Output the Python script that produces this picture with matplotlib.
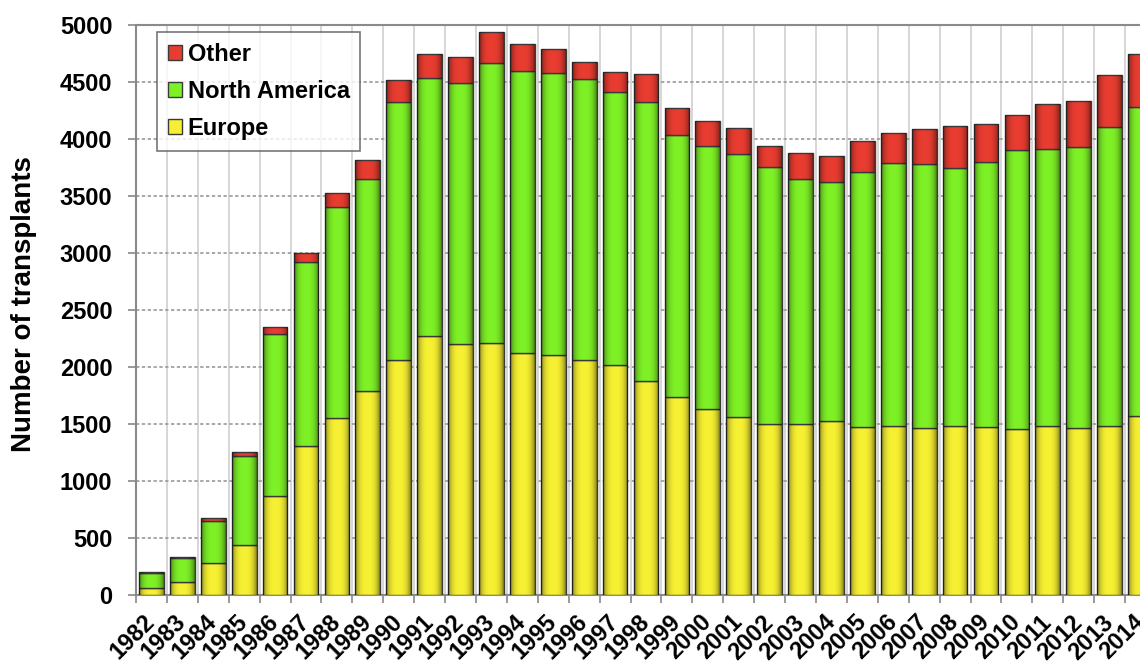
import numpy as np
import matplotlib
matplotlib.use("Agg")
import matplotlib.pyplot as plt
from matplotlib.ticker import FixedLocator

# ── Datos ───────────────────────────────────────────────────────────────────
years = list(range(1982, 2015))

europe = [59, 117, 278, 439, 871, 1307, 1550, 1789, 2064, 2272,
          2202, 2208, 2126, 2105, 2061, 2018, 1877, 1740, 1629, 1559,
          1497, 1497, 1526, 1477, 1485, 1468, 1485, 1477, 1456, 1485,
          1468, 1485, 1570]

# totales acumulados (Europa + Norteamérica)
europe_na = [196, 322, 649, 1219, 2287, 2924, 3406, 3649, 4325, 4532,
             4488, 4669, 4599, 4582, 4524, 4410, 4322, 4035, 3941, 3868,
             3757, 3649, 3626, 3713, 3787, 3781, 3743, 3801, 3904, 3909,
             3927, 4108, 4283]

total = [200, 330, 678, 1252, 2354, 2997, 3524, 3816, 4518, 4746,
         4722, 4936, 4830, 4787, 4673, 4591, 4568, 4275, 4158, 4094,
         3941, 3880, 3854, 3985, 4056, 4085, 4117, 4129, 4211, 4307,
         4336, 4561, 4743]

north_america = [b - a for a, b in zip(europe, europe_na)]
other = [c - b for b, c in zip(europe_na, total)]

C_EUR = "#f6f032"
C_NA = "#7ef026"
C_OTH = "#e83c30"
EDGE = "#3a3a3a"

plt.rcParams["font.family"] = ["Liberation Sans", "DejaVu Sans"]
plt.rcParams["font.weight"] = "bold"

fig = plt.figure(figsize=(11.4, 6.62), dpi=100)
# el eje se extiende más allá del borde derecho (gráfico recortado)
ax = fig.add_axes([136 / 1140, 67 / 662, 1020 / 1140, 570 / 662])

x = np.arange(len(years))
w = 0.8
bars = []
bars += ax.bar(x, europe, w, color=C_EUR, edgecolor=EDGE, linewidth=1.0,
               label="Europe", zorder=3).patches
bars += ax.bar(x, north_america, w, bottom=europe, color=C_NA,
               edgecolor=EDGE, linewidth=1.0, label="North America",
               zorder=3).patches
bars += ax.bar(x, other, w, bottom=europe_na, color=C_OTH, edgecolor=EDGE,
               linewidth=1.0, label="Other", zorder=3).patches

# sombreado tipo cilindro (bordes más oscuros)
t = np.linspace(-1, 1, 60)
shade = np.zeros((1, 60, 4))
shade[0, :, 3] = 0.45 * np.abs(t) ** 3
for p in bars:
    x0, y0 = p.get_x(), p.get_y()
    im = ax.imshow(shade, extent=(x0, x0 + p.get_width(), y0,
                                  y0 + p.get_height()),
                   aspect="auto", zorder=3.5, interpolation="bilinear")
    im.set_clip_path(p)

ax.set_xlim(-0.5, len(years) - 0.5)
ax.set_ylim(0, 5000)
ax.set_yticks(range(0, 5001, 500))
ax.yaxis.grid(True, linestyle=(0, (2, 1.5)), color="#9a9a9a", linewidth=1.2,
              zorder=1)

# líneas verticales entre categorías
ax.set_xticks(x)
ax.set_xticklabels([str(y) for y in years], rotation=45, ha="right",
                   va="center", rotation_mode="anchor", fontsize=17,
                   fontweight="bold")
ax.xaxis.set_minor_locator(FixedLocator(x - 0.5))
ax.tick_params(axis="x", which="major", length=0, pad=17)
ax.tick_params(axis="x", which="minor", length=6, color="#888888", width=1.2)
ax.xaxis.grid(True, which="minor", color="#d0d0d0", linewidth=1.2, zorder=1)
ax.tick_params(axis="y", length=6, color="#888888", width=1.2, pad=11,
               labelsize=17)
for lbl in ax.get_yticklabels():
    lbl.set_fontweight("bold")

for s in ["left", "top", "bottom", "right"]:
    ax.spines[s].set_color("#8a8a8a")
    ax.spines[s].set_linewidth(1.5)

ax.set_ylabel("Number of transplants", fontsize=20, fontweight="bold")
ax.yaxis.set_label_coords(-0.110, 0.51)
ax.yaxis.label.set_va("center")

handles, labels = ax.get_legend_handles_labels()
leg = ax.legend(handles[::-1], labels[::-1], loc="upper left",
                bbox_to_anchor=(0.0206, 0.9877), borderaxespad=0,
                frameon=True, fancybox=False, edgecolor="#555555",
                handlelength=0.6, handleheight=0.6, handletextpad=0.25,
                labelspacing=0.6, borderpad=0.45,
                prop={"weight": "bold", "size": 17})
leg.get_frame().set_linewidth(1.2)

fig.savefig("out.png", dpi=100)
